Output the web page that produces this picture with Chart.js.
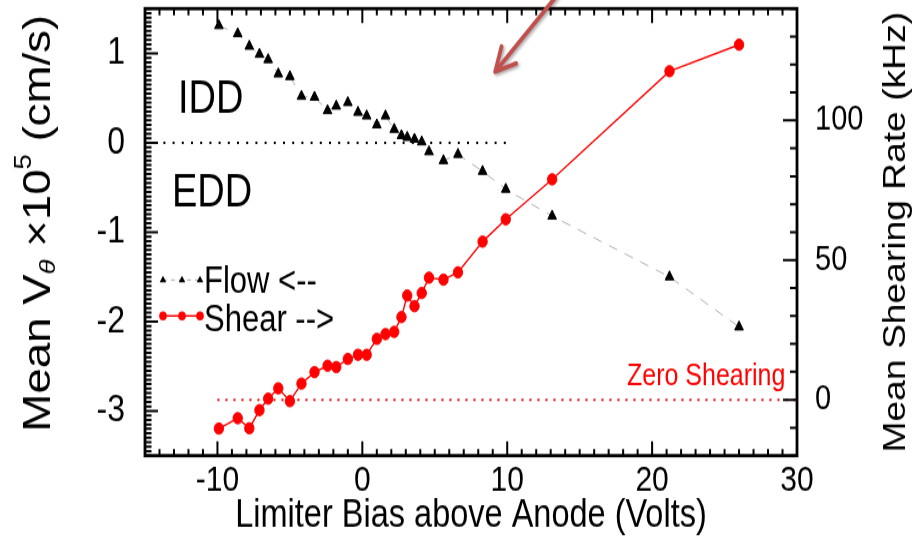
<!DOCTYPE html>
<html>
<head>
<meta charset="utf-8">
<script src="https://cdn.jsdelivr.net/npm/chart.js@4.4.1/dist/chart.umd.min.js"></script>
<style>
  html, body { margin: 0; padding: 0; background: #fff; width: 915px; height: 540px; }
  #stage { width: 915px; height: 540px; position: relative; }
  #wrap { position: absolute; left: 0; top: 0; width: 915px; height: 450px; transform: scaleY(1.2); transform-origin: 0 0; }
  canvas { display: block; }
</style>
</head>
<body>
<div id="stage"><div id="wrap"><canvas id="c" width="915" height="450"></canvas></div></div>
<script>
// Limiter bias scan: mean poloidal flow (left axis) and mean shearing rate (right axis)
const biasVolts = [-9.9, -8.6, -7.8, -7.1, -6.5, -5.8, -5.0, -4.2, -3.3, -2.4, -1.8, -1.0, -0.3, 0.3,
                   1.0, 1.6, 2.2, 2.7, 3.1, 3.6, 4.1, 4.6, 5.6, 6.6, 8.3, 9.9, 13.1, 21.2, 26.0];
const flowVelocity = [1.31, 1.22, 1.08, 0.99, 0.93, 0.77, 0.74, 0.52, 0.51, 0.36, 0.41, 0.45, 0.34, 0.30,
                      0.20, 0.30, 0.15, 0.08, 0.06, 0.04, 0.01, -0.10, -0.20, -0.13, -0.32, -0.52, -0.82, -1.50, -2.06];
const shearRate = [-10.3, -6.6, -10.2, -3.7, 0.4, 4.1, -0.5, 5.8, 9.9, 12.2, 11.7, 14.6, 16.1, 16.1,
                   21.8, 23.5, 24.3, 29.6, 37.3, 33.5, 38.2, 43.7, 43.0, 45.6, 56.6, 64.6, 78.9, 117.6, 127.1];

const biasTicks = [-10, 0, 10, 20, 30];
const flowTicks = [-3, -2, -1, 0, 1];
const shearTicks = [0, 50, 100];

const flowZeroSpan = [-15, 10];
const shearZeroSpan = [-10, 30];

const FONT = "'Liberation Sans', Arial, Helvetica, sans-serif";
const RED = '#ff0000';
Chart.defaults.font.family = FONT;
Chart.defaults.color = '#000';

const flowPoints = biasVolts.map((v, i) => ({ x: v, y: flowVelocity[i] }));
const shearPoints = biasVolts.map((v, i) => ({ x: v, y: shearRate[i] }));

// Boxed frame with inward major/minor ticks on all four sides
const frameTicks = {
  id: 'frameTicks',
  afterDatasetsDraw(chart) {
    const { ctx, chartArea: a, scales: { x, y, y2 } } = chart;
    ctx.save();
    ctx.strokeStyle = '#000';
    ctx.lineWidth = 2;
    ctx.beginPath();
    for (let v = -15; v <= 30; v++) {
      const p = x.getPixelForValue(v);
      const len = v % 10 === 0 ? 12 : 5.5;
      ctx.moveTo(p, a.bottom); ctx.lineTo(p, a.bottom - len);
      ctx.moveTo(p, a.top); ctx.lineTo(p, a.top + len);
    }
    for (let i = -70; i <= 30; i++) {
      const p = y.getPixelForValue(i * 0.05);
      const len = i % 20 === 0 ? 13 : 6.5;
      ctx.moveTo(a.left, p); ctx.lineTo(a.left + len, p);
    }
    for (let v = -20; v <= 140; v += 10) {
      const p = y2.getPixelForValue(v);
      const len = v % 50 === 0 ? 14 : 7;
      ctx.moveTo(a.right, p); ctx.lineTo(a.right - len, p);
    }
    ctx.stroke();
    ctx.lineWidth = 2.8;
    ctx.strokeRect(a.left, a.top, a.right - a.left, a.bottom - a.top);
    ctx.restore();
  }
};

// Rotated rich-text title (reads bottom to top), pieces centred on cy
function drawRotatedRich(ctx, pieces, bx, cy) {
  ctx.save();
  ctx.translate(bx, cy);
  ctx.rotate(-Math.PI / 2);
  ctx.textBaseline = 'alphabetic';
  ctx.textAlign = 'left';
  let total = 0;
  pieces.forEach(p => {
    ctx.font = (p.italic ? 'italic ' : '') + p.size + 'px ' + FONT;
    p.w = ctx.measureText(p.t).width;
    total += p.w;
  });
  let cx = -total / 2;
  pieces.forEach(p => {
    ctx.font = (p.italic ? 'italic ' : '') + p.size + 'px ' + FONT;
    ctx.fillText(p.t, cx, p.dy || 0);
    cx += p.w;
  });
  ctx.restore();
}

const annotations = {
  id: 'annotations',
  afterDraw(chart) {
    const { ctx, scales: { x, y, y2 } } = chart;
    ctx.save();
    ctx.fillStyle = '#000';
    ctx.textBaseline = 'alphabetic';

    // Axis titles
    drawRotatedRich(ctx, [
      { t: 'Mean V', size: 38 },
      { t: 'θ', size: 23, italic: true, dy: 5 },
      { t: ' ×10', size: 38 },
      { t: '5', size: 23, dy: -19 },
      { t: ' (cm/s)', size: 38 }
    ], 50, 186);
    drawRotatedRich(ctx, [{ t: 'Mean Shearing Rate (kHz)', size: 31 }], 905, 193.5);

    // Region labels
    ctx.font = '38px ' + FONT;
    ctx.textAlign = 'left';
    ctx.fillText('IDD', 178, 94.4);
    ctx.fillText('EDD', 172, 172.2);

    // Zero shearing label
    ctx.fillStyle = RED;
    ctx.font = '25px ' + FONT;
    ctx.textAlign = 'right';
    ctx.fillText('Zero Shearing', x.getPixelForValue(29.2), y2.getPixelForValue(5.4));

    // Legend
    const fy = 233.3, sy = 263.3, mx = [163, 182, 200];
    ctx.strokeStyle = '#aaa';
    ctx.lineWidth = 1;
    ctx.setLineDash([4, 4]);
    ctx.beginPath(); ctx.moveTo(mx[0], fy); ctx.lineTo(mx[2], fy); ctx.stroke();
    ctx.setLineDash([]);
    ctx.fillStyle = '#000';
    mx.forEach(px => {
      ctx.beginPath();
      ctx.moveTo(px, fy - 3.5);
      ctx.lineTo(px + 3.3, fy + 2);
      ctx.lineTo(px - 3.3, fy + 2);
      ctx.closePath();
      ctx.fill();
    });
    ctx.strokeStyle = RED;
    ctx.lineWidth = 1.5;
    ctx.beginPath(); ctx.moveTo(mx[0], sy); ctx.lineTo(mx[2], sy); ctx.stroke();
    ctx.fillStyle = RED;
    mx.forEach(px => { ctx.beginPath(); ctx.arc(px, sy, 3.8, 0, Math.PI * 2); ctx.fill(); });
    ctx.fillStyle = '#000';
    ctx.font = '31px ' + FONT;
    ctx.textAlign = 'left';
    ctx.fillText('Flow <--', 204, 244.4);
    ctx.fillText('Shear -->', 204, 276.4);

    // Pointer arrow
    const tx = x.getPixelForValue(9.17), ty = y.getPixelForValue(0.794);
    const sx = x.getPixelForValue(13.6), sy0 = y.getPixelForValue(1.68);
    const ang = Math.atan2(sy0 - ty, sx - tx);
    ctx.strokeStyle = 'rgb(192,80,77)';
    ctx.lineWidth = 3.8;
    ctx.lineCap = 'round';
    ctx.lineJoin = 'round';
    ctx.shadowColor = 'rgba(0,0,0,0.35)';
    ctx.shadowBlur = 3;
    ctx.shadowOffsetX = 1.5;
    ctx.shadowOffsetY = 1.5;
    ctx.beginPath();
    ctx.moveTo(sx, sy0); ctx.lineTo(tx, ty);
    ctx.moveTo(tx + 22 * Math.cos(ang - 0.48), ty + 22 * Math.sin(ang - 0.48));
    ctx.lineTo(tx, ty);
    ctx.lineTo(tx + 22 * Math.cos(ang + 0.48), ty + 22 * Math.sin(ang + 0.48));
    ctx.stroke();
    ctx.restore();
  }
};

const noPad = s => { s.paddingTop = 0; s.paddingBottom = 0; s.paddingLeft = 0; s.paddingRight = 0; };

new Chart(document.getElementById('c'), {
  type: 'scatter',
  data: {
    datasets: [
      {
        label: 'Shear -->',
        data: shearPoints,
        yAxisID: 'y2',
        showLine: true,
        borderColor: RED,
        borderWidth: 1.4,
        pointStyle: 'circle',
        pointRadius: 4.7,
        pointBackgroundColor: RED,
        pointBorderColor: RED,
        pointBorderWidth: 1,
        order: 1
      },
      {
        label: 'Flow <--',
        data: flowPoints,
        yAxisID: 'y',
        showLine: true,
        borderColor: '#b4b4b4',
        borderWidth: 1,
        borderDash: [9, 8],
        pointStyle: 'triangle',
        pointRadius: 5,
        pointBackgroundColor: '#000',
        pointBorderColor: '#000',
        pointBorderWidth: 1,
        order: 2
      },
      {
        label: 'flow zero',
        data: flowZeroSpan.map(v => ({ x: v, y: 0 })),
        yAxisID: 'y',
        showLine: true,
        borderColor: '#000',
        borderWidth: 2,
        borderDash: [2, 7.2],
        pointRadius: 0,
        order: 3
      },
      {
        label: 'shear zero',
        data: shearZeroSpan.map(v => ({ x: v, y: 0 })),
        yAxisID: 'y2',
        showLine: true,
        borderColor: RED,
        borderWidth: 2,
        borderDash: [2, 6],
        pointRadius: 0,
        order: 3
      }
    ]
  },
  options: {
    responsive: false,
    animation: false,
    devicePixelRatio: 1,
    events: [],
    layout: { autoPadding: false, padding: { top: 7.2, left: 0, right: 0, bottom: 0 } },
    plugins: { legend: { display: false }, tooltip: { enabled: false } },
    scales: {
      x: {
        type: 'linear', position: 'bottom', min: -15, max: 30,
        grid: { display: false, drawTicks: false },
        border: { display: false },
        ticks: { font: { size: 30 }, color: '#000', padding: 3, maxRotation: 0, autoSkip: false,
                  callback: v => String(v) },
        title: { display: true, text: 'Limiter Bias above Anode (Volts)', font: { size: 32.5 }, color: '#000',
                 padding: { top: 0, bottom: 0 } },
        afterBuildTicks: s => { s.ticks = biasTicks.map(v => ({ value: v })); },
        afterFit: s => { s.height = 70.3; noPad(s); }
      },
      y: {
        type: 'linear', position: 'left', min: -3.5, max: 1.5,
        grid: { display: false, drawTicks: false },
        border: { display: false },
        ticks: { font: { size: 32 }, color: '#000', padding: 20, autoSkip: false, callback: v => String(v) },
        afterBuildTicks: s => { s.ticks = flowTicks.map(v => ({ value: v })); },
        afterFit: s => { s.width = 145; noPad(s); }
      },
      y2: {
        type: 'linear', position: 'right', min: -20, max: 140,
        grid: { display: false, drawTicks: false },
        border: { display: false },
        ticks: { font: { size: 29 }, color: '#000', padding: 18, autoSkip: false, callback: v => String(v) },
        afterBuildTicks: s => { s.ticks = shearTicks.map(v => ({ value: v })); },
        afterFit: s => { s.width = 118; noPad(s); }
      }
    }
  },
  plugins: [frameTicks, annotations]
});
</script>
</body>
</html>
